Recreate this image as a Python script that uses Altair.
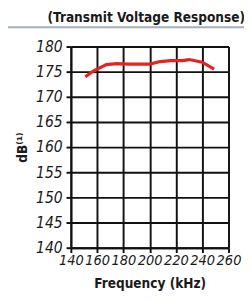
import altair as alt
import pandas as pd

freq = [151, 157, 167, 175, 184, 194, 200, 208, 216, 225, 230, 240, 249]
db = [174.0, 175.1, 176.4, 176.6, 176.5, 176.5, 176.5, 177.0, 177.2, 177.2, 177.4, 176.9, 175.5]
x_ticks = [140, 160, 180, 200, 220, 240, 260]
y_ticks = [140, 145, 150, 155, 160, 165, 170, 175, 180]
title_text = "(Transmit Voltage Response)"

df = pd.DataFrame({"f": freq, "db": db})
FONT = "DejaVu Sans Condensed"

line = alt.Chart(df).mark_line(color="#e8231f", strokeWidth=3.2, clip=False).encode(
    x=alt.X("f:Q", scale=alt.Scale(domain=[140, 260], nice=False),
            axis=alt.Axis(values=x_ticks, title="Frequency (kHz)", grid=True,
                          gridColor="#111", gridWidth=2, gridOpacity=1,
                          domainColor="#111", domainWidth=2,
                          tickColor="#111", tickWidth=2, tickSize=5,
                          labelFont=FONT, labelFontStyle="oblique", labelFontSize=15,
                          labelColor="#1a1a1a", labelPadding=0, labelOverlap=False,
                          titleFont=FONT, titleFontWeight="bold", titleFontSize=14,
                          titleColor="#1a1a1a", titlePadding=10, labelFlush=False)),
    y=alt.Y("db:Q", scale=alt.Scale(domain=[140, 180], nice=False, zero=False),
            axis=alt.Axis(values=y_ticks, title="dB⁽¹⁾", grid=True,
                          gridColor="#111", gridWidth=2, gridOpacity=1,
                          domainColor="#111", domainWidth=2,
                          tickColor="#111", tickWidth=2, tickSize=5,
                          labelFont=FONT, labelFontStyle="oblique", labelFontSize=16,
                          labelColor="#1a1a1a", labelPadding=4, labelOverlap=False,
                          titleFont=FONT, titleFontWeight="bold", titleFontSize=14,
                          titleColor="#1a1a1a", titlePadding=6)),
)

tdf = pd.DataFrame({"t": [title_text]})
title = alt.Chart(tdf).mark_text(font=FONT, fontWeight="bold", fontSize=14,
                                 color="#1a1a1a", baseline="middle").encode(
    x=alt.value(78), y=alt.value(-29), text="t:N")

rule = alt.Chart(tdf).mark_rule(color="#a3b0bb", strokeWidth=2).encode(
    x=alt.value(-73), x2=alt.value(190), y=alt.value(-20))

chart = alt.layer(rule, title, line).properties(
    width=163, height=208,
    autosize=alt.AutoSizeParams(type="none"),
    padding={"left": 65, "top": 35, "right": 16, "bottom": 42},
).configure_view(stroke="#111", strokeWidth=2).configure(background="white")

chart.save("out.html", embed_options={"renderer": "svg", "actions": False})
